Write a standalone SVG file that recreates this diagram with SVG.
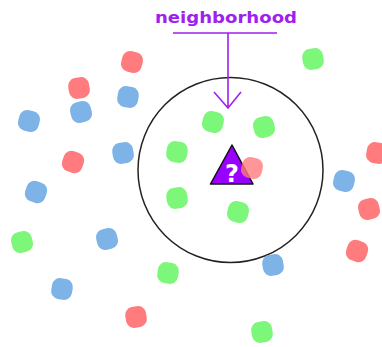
<svg xmlns="http://www.w3.org/2000/svg" width="382" height="347" viewBox="0 0 382 347">
<style>
.r{fill:#ff7b7d}
.b{fill:#7db3e6}
.g{fill:#7df77a}
.lbl{font-family:"DejaVu Sans",Verdana,sans-serif;font-weight:bold;font-size:16.4px;fill:#a020f0}
.pl{stroke:#a020f0;stroke-width:1.6;fill:none}
</style>
<defs>
<rect id="d" x="-10.5" y="-10.5" width="21" height="21" rx="8"/>
</defs>
<rect width="382" height="347" fill="#fff"/>
<g id="neighborhood-circle">
<circle cx="230.5" cy="170" r="92.5" fill="none" stroke="#222" stroke-width="1.5"/>
</g>
<g id="dots">
<use href="#d" class="r" transform="translate(132,62) rotate(15)"/>
<use href="#d" class="r" transform="translate(79,88) rotate(-10)"/>
<use href="#d" class="r" transform="translate(73,162) rotate(20)"/>
<use href="#d" class="r" transform="translate(377,153) rotate(10)"/>
<use href="#d" class="r" transform="translate(369,209) rotate(-15)"/>
<use href="#d" class="r" transform="translate(357,251) rotate(20)"/>
<use href="#d" class="r" transform="translate(136,317) rotate(-10)"/>
<use href="#d" class="b" transform="translate(29,121) rotate(15)"/>
<use href="#d" class="b" transform="translate(81,112) rotate(-15)"/>
<use href="#d" class="b" transform="translate(128,97) rotate(10)"/>
<use href="#d" class="b" transform="translate(123,153) rotate(-10)"/>
<use href="#d" class="b" transform="translate(36,192) rotate(20)"/>
<use href="#d" class="b" transform="translate(107,239) rotate(-15)"/>
<use href="#d" class="b" transform="translate(62,289) rotate(10)"/>
<use href="#d" class="b" transform="translate(273,265) rotate(-10)"/>
<use href="#d" class="b" transform="translate(344,181) rotate(15)"/>
<use href="#d" class="g" transform="translate(313,59) rotate(-10)"/>
<use href="#d" class="g" transform="translate(213,122) rotate(15)"/>
<use href="#d" class="g" transform="translate(264,127) rotate(-15)"/>
<use href="#d" class="g" transform="translate(177,152) rotate(10)"/>
<use href="#d" class="g" transform="translate(177,198) rotate(-10)"/>
<use href="#d" class="g" transform="translate(238,212) rotate(15)"/>
<use href="#d" class="g" transform="translate(22,242) rotate(-15)"/>
<use href="#d" class="g" transform="translate(168,273) rotate(10)"/>
<use href="#d" class="g" transform="translate(262,332) rotate(-10)"/>
</g>
<g id="query">
<polygon points="232,145 210.5,184 253,184" fill="#9900ff" stroke="#111" stroke-width="1.5" stroke-linejoin="round"/>
<text x="232" y="182" text-anchor="middle" font-family="DejaVu Sans,Verdana,sans-serif" font-weight="bold" font-size="24" fill="#fff">?</text>
<use href="#d" class="r" opacity="0.8" transform="translate(252,168) rotate(15)"/>
</g>
<g id="label">
<text class="lbl" x="226" y="23" text-anchor="middle" textLength="142" lengthAdjust="spacingAndGlyphs">neighborhood</text>
</g>
<g id="connectors">
<path class="pl" d="M173,33 H277 M228,33 V108 M214,92 L228,108 L241,92"/>
</g>
</svg>
